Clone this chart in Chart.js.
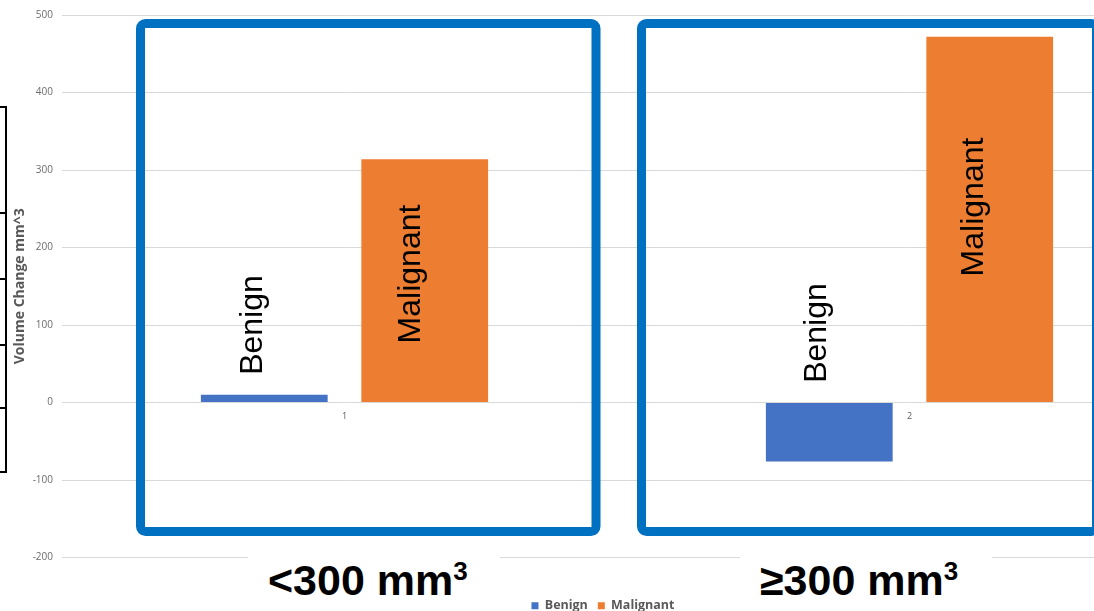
<!DOCTYPE html>
<html>
<head>
<meta charset="utf-8">
<script src="https://cdn.jsdelivr.net/npm/chart.js@4/dist/chart.umd.min.js"></script>
<style>
  html, body { margin: 0; padding: 0; background: #fff; overflow: hidden; }
  #wrap { position: relative; width: 1094px; height: 611px; overflow: hidden; background: #fff; }
  #chart { position: absolute; left: 0; top: 0; }
  .rule { position: absolute; background: #000; }
  .group-box { position: absolute; top: 545px; height: 66px; background: #fff; }
  .group-label {
    position: absolute; top: 559px; white-space: nowrap;
    font: bold 43px 'Liberation Sans', Arial, sans-serif; line-height: 42px; color: #000;
  }
  .group-label .sup { font-size: 26px; position: relative; top: -15px; }
</style>
</head>
<body>
<div id="wrap">
  <canvas id="chart" width="1204" height="611" style="width:1204px;height:611px"></canvas>

  <!-- table edge on the far left -->
  <div class="rule" style="left:5px;top:106px;width:2px;height:367px"></div>
  <div class="rule" style="left:0;top:106px;width:7px;height:2px"></div>
  <div class="rule" style="left:0;top:212px;width:7px;height:2px"></div>
  <div class="rule" style="left:0;top:278px;width:7px;height:2px"></div>
  <div class="rule" style="left:0;top:344px;width:7px;height:2px"></div>
  <div class="rule" style="left:0;top:407px;width:7px;height:2px"></div>
  <div class="rule" style="left:0;top:471px;width:7px;height:2px"></div>

  <!-- size group captions -->
  <div class="group-box" style="left:248px;width:252px"></div>
  <div class="group-box" style="left:740px;width:252px"></div>
  <div class="group-label" style="left:268px">&lt;300 mm<span class="sup">3</span></div>
  <div class="group-label" style="left:760px">≥300 mm<span class="sup">3</span></div>
</div>

<script>
// Mean volume change per size group
const categories = ['1', '2'];
const benignChange = [10, -76];
const malignantChange = [314, 472];

// Value axis
const yMin = -200;
const yMax = 500;
const yStep = 100;

const FONT = "'Open Sans', 'DejaVu Sans', sans-serif";
Chart.defaults.font.family = FONT;

// Vertical name written inside each group: [x shift from bar centre, y centre]
const nameSpots = [
  [[-2, 325], [-3, 333]],
  [[-5, 274], [-7, 207]]
];

const barNames = {
  id: 'barNames',
  afterDatasetsDraw(chart) {
    const ctx = chart.ctx;
    ctx.save();
    ctx.font = "32px 'Liberation Sans', Arial, sans-serif";
    ctx.fillStyle = '#000';
    ctx.textAlign = 'center';
    ctx.textBaseline = 'alphabetic';
    chart.data.datasets.forEach((ds, di) => {
      chart.getDatasetMeta(di).data.forEach((bar, i) => {
        const [dx, cy] = nameSpots[di][i];
        ctx.save();
        ctx.translate(bar.x + dx, cy);
        ctx.rotate(-Math.PI / 2);
        ctx.fillText(ds.label, 0, 0);
        ctx.restore();
      });
    });
    ctx.restore();
  }
};

// Blue outlines around the two size groups
const groupFrames = {
  id: 'groupFrames',
  afterDraw(chart) {
    const ctx = chart.ctx;
    ctx.save();
    ctx.strokeStyle = '#0070C0';
    ctx.lineWidth = 9;
    ctx.lineJoin = 'round';
    [[140.5, 23.5, 455.5, 508], [641.5, 23.5, 455, 508]].forEach(([x, y, w, h]) => {
      ctx.beginPath();
      ctx.roundRect(x, y, w, h, 5);
      ctx.stroke();
    });
    ctx.restore();
  }
};

new Chart(document.getElementById('chart'), {
  type: 'bar',
  data: {
    labels: categories,
    datasets: [
      { label: 'Benign', data: benignChange, backgroundColor: '#4472C4', borderWidth: 0,
        categoryPercentage: 0.568, barPercentage: 0.79 },
      { label: 'Malignant', data: malignantChange, backgroundColor: '#ED7D31', borderWidth: 0,
        categoryPercentage: 0.568, barPercentage: 0.79 }
    ]
  },
  options: {
    responsive: false,
    animation: false,
    devicePixelRatio: 1,
    layout: { padding: { left: 14, top: 14, right: 12, bottom: -11 } },
    plugins: {
      tooltip: { enabled: false },
      legend: {
        position: 'bottom',
        // empty title keeps a gap between the plot and the legend row
        title: { display: true, text: '', font: { size: 12 }, padding: { top: 17.6, bottom: 0 } },
        labels: {
          boxWidth: 7, boxHeight: 7, padding: 10, color: '#595959',
          font: { size: 12.5, weight: 'bold', family: FONT }
        }
      }
    },
    scales: {
      x: {
        position: { y: 0 },
        grid: { display: false, drawTicks: false },
        border: { display: false },
        ticks: { color: '#595959', padding: 9, font: { size: 9, family: FONT } }
      },
      y: {
        min: yMin,
        max: yMax,
        grid: { color: '#d9d9d9', lineWidth: 1, drawTicks: false },
        border: { display: false },
        ticks: { stepSize: yStep, padding: 9, color: '#6b6b6b', font: { size: 10, family: FONT } },
        title: {
          display: true, text: 'Volume Change mm^3', color: '#595959',
          padding: { top: -2, bottom: 0 },
          font: { size: 14, weight: 'bold', family: FONT }
        },
        afterFit(s) { s.width = 48; }
      }
    }
  },
  plugins: [barNames, groupFrames]
});
</script>
</body>
</html>
